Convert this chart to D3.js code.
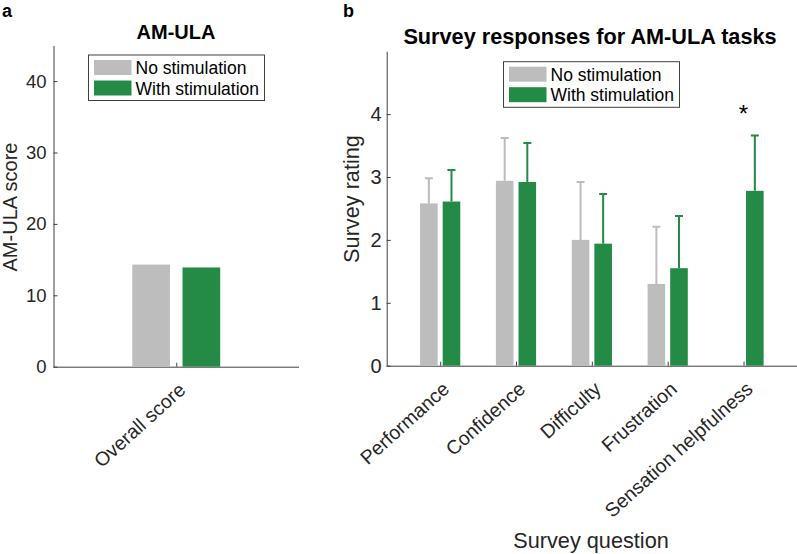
<!DOCTYPE html>
<html>
<head>
<meta charset="utf-8">
<script src="https://cdn.jsdelivr.net/npm/d3@7"></script>
<style>
  body { margin: 0; background: #fff; }
  text { font-family: "Liberation Sans", Arial, sans-serif; fill: #262626; }
  .axis path, .axis line { stroke: #404040; stroke-width: 1; }
</style>
</head>
<body>
<div id="chart"></div>
<script>
// loading data
var conditions = ["No stimulation", "With stimulation"];

var scoreCategories = ["Overall score"];
var scoreNoStim = [14.3];
var scoreWithStim = [13.9];
var scoreTicks = [0, 10, 20, 30, 40];

var surveyQuestions = ["Performance", "Confidence", "Difficulty", "Frustration", "Sensation helpfulness"];
var surveyNoStim = [2.58, 2.94, 2.00, 1.30, null];
var surveyNoStimErr = [0.40, 0.68, 0.92, 0.91, null];
var surveyWithStim = [2.61, 2.92, 1.94, 1.55, 2.78];
var surveyWithStimErr = [0.50, 0.62, 0.79, 0.83, 0.88];
var surveySignificant = [false, false, false, false, true];
var surveyTicks = [0, 1, 2, 3, 4];

var colors = { "No stimulation": "#bdbdbd", "With stimulation": "#238b45" };

var svg = d3.select("#chart")
    .append("svg")
    .attr("width", 797)
    .attr("height", 554);

// builds rows for grouped bars
function rows(cats, a, b, ea, eb) {
    var out = [];
    cats.forEach(function(c, i) {
        out.push({ cat: c, cond: conditions[0], v: a[i], e: ea ? ea[i] : null });
        out.push({ cat: c, cond: conditions[1], v: b[i], e: eb ? eb[i] : null });
    });
    return out.filter(function(d) { return d.v != null; });
}

// draws one bar panel
function panel(opt) {
    var g = svg.append("g");

    var x = d3.scalePoint()
        .domain(opt.cats)
        .range([opt.left, opt.right])
        .padding(opt.pad);
    var step = opt.cats.length > 1 ? x.step() : (opt.right - opt.left);

    var inner = d3.scaleBand()
        .domain(conditions)
        .range([-opt.group / 2 * step, opt.group / 2 * step])
        .paddingInner(opt.gap);

    var y = d3.scaleLinear()
        .domain(opt.ydom)
        .range([opt.bottom, opt.top]);

    // y axis
    var yAxis = g.append("g")
        .attr("class", "axis")
        .attr("transform", "translate(" + opt.left + ",0)")
        .call(d3.axisLeft(y).tickValues(opt.ticks).tickFormat(d3.format("d"))
            .tickSizeInner(-4).tickSizeOuter(0).tickPadding(opt.tickPad));
    yAxis.selectAll("text").attr("font-size", opt.tickFont + "px").style("fill", "#262626");

    // x axis
    var xAxis = g.append("g")
        .attr("class", "axis")
        .attr("transform", "translate(0," + opt.bottom + ")")
        .call(d3.axisBottom(x).tickSizeInner(-4).tickSizeOuter(0));
    xAxis.select(".domain").attr("d", "M" + opt.left + ",0.5H" + opt.right);
    xAxis.selectAll("text")
        .attr("font-size", opt.xtickFont + "px")
        .attr("text-anchor", "end")
        .attr("x", 0).attr("y", 0).attr("dy", null)
        .attr("transform", "translate(10,25) rotate(-42)")
        .style("fill", "#262626");

    // bars
    g.selectAll(".bar")
        .data(opt.data)
        .enter()
        .append("rect")
        .attr("class", "bar")
        .attr("x", function(d) { return x(d.cat) + inner(d.cond); })
        .attr("width", inner.bandwidth())
        .attr("y", function(d) { return y(d.v); })
        .attr("height", function(d) { return y(0) - y(d.v); })
        .attr("fill", function(d) { return colors[d.cond]; });

    // error bars (upper only)
    var errs = opt.data.filter(function(d) { return d.e != null; });
    g.selectAll(".err")
        .data(errs)
        .enter()
        .append("path")
        .attr("class", "err")
        .attr("d", function(d) {
            var cx = x(d.cat) + inner(d.cond) + inner.bandwidth() / 2;
            var y0 = y(d.v), y1 = y(d.v + d.e);
            return "M" + cx + "," + y0 + "V" + y1 + "M" + (cx - 4) + "," + y1 + "H" + (cx + 4);
        })
        .attr("stroke", function(d) { return colors[d.cond]; })
        .attr("stroke-width", 2)
        .attr("fill", "none");

    // title
    g.append("text")
        .attr("x", opt.titleX)
        .attr("y", opt.titleY)
        .attr("text-anchor", "middle")
        .attr("font-weight", "bold")
        .attr("font-size", opt.titleFont + "px")
        .style("fill", "#000")
        .text(opt.title);

    // y label
    g.append("text")
        .attr("transform", "translate(" + opt.ylabX + "," + opt.ylabY + ") rotate(-90)")
        .attr("text-anchor", "middle")
        .attr("font-size", opt.labFont + "px")
        .text(opt.ylab);

    // panel letter
    g.append("text")
        .attr("x", opt.letterX)
        .attr("y", 16.5)
        .attr("font-weight", "bold")
        .attr("font-size", "18px")
        .style("fill", "#000")
        .text(opt.letter);

    // legend
    var L = opt.legend;
    g.append("rect")
        .attr("x", L.x).attr("y", L.y)
        .attr("width", L.w).attr("height", L.h)
        .attr("fill", "#fff")
        .attr("stroke", "#404040")
        .attr("stroke-width", 1);
    conditions.forEach(function(c, i) {
        g.append("rect")
            .attr("x", L.x + 5.5)
            .attr("y", L.y + 5 + i * 20.5)
            .attr("width", 37.5)
            .attr("height", 15)
            .attr("fill", colors[c]);
        g.append("text")
            .attr("x", L.x + 47)
            .attr("y", L.y + 19 + i * 20.5)
            .attr("font-size", "17.5px")
            .style("fill", "#000")
            .text(c);
    });

    return { g: g, x: x, y: y, inner: inner };
}

// panel a
panel({
    letter: "a", letterX: 2,
    cats: scoreCategories, pad: 0.5,
    left: 53.5, right: 299, top: 45.4, bottom: 366.7,
    ydom: [0, 45], ticks: scoreTicks,
    group: 0.358, gap: 0.25,
    data: rows(scoreCategories, scoreNoStim, scoreWithStim),
    tickFont: 18.5, tickPad: 7, xtickFont: 19.5,
    title: "AM-ULA", titleX: 176, titleY: 39, titleFont: 20,
    ylab: "AM-ULA score", ylabX: 17, ylabY: 207, labFont: 20,
    legend: { x: 88.5, y: 55, w: 176, h: 45.5 }
});

// panel b
var pb = panel({
    letter: "b", letterX: 343,
    cats: surveyQuestions, pad: 0.705,
    left: 386.7, right: 797, top: 51.2, bottom: 365.7,
    ydom: [0, 5], ticks: surveyTicks,
    group: 0.53, gap: 0.222,
    data: rows(surveyQuestions, surveyNoStim, surveyWithStim, surveyNoStimErr, surveyWithStimErr),
    tickFont: 20, tickPad: 5, xtickFont: 19.5,
    title: "Survey responses for AM-ULA tasks", titleX: 590, titleY: 44, titleFont: 21.7,
    ylab: "Survey rating", ylabX: 359, ylabY: 199, labFont: 21.7,
    legend: { x: 503.5, y: 61.7, w: 176, h: 45.6 }
});

// significance marks
surveyQuestions.forEach(function(q, i) {
    if (!surveySignificant[i]) return;
    var top = surveyWithStim[i] + surveyWithStimErr[i];
    pb.g.append("text")
        .attr("x", pb.x(q))
        .attr("y", pb.y(top) - 13)
        .attr("text-anchor", "middle")
        .attr("font-size", "24px")
        .style("fill", "#000")
        .text("*");
});

// x label b
svg.append("text")
    .attr("x", 591)
    .attr("y", 548)
    .attr("text-anchor", "middle")
    .attr("font-size", "21.7px")
    .text("Survey question");
</script>
</body>
</html>
